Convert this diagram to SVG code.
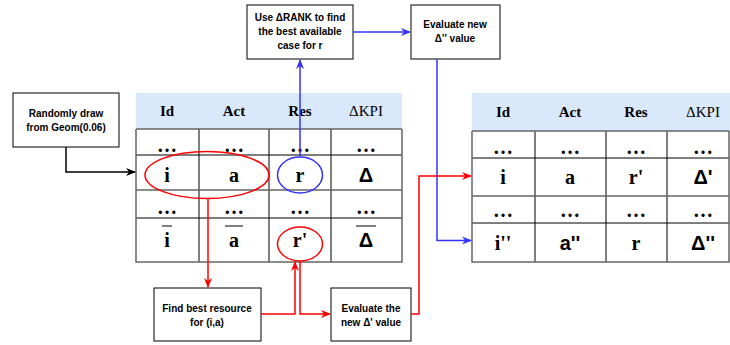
<svg xmlns="http://www.w3.org/2000/svg" width="730" height="345" viewBox="0 0 730 345">
<style>
.box{fill:#fff;stroke:#000;stroke-width:1}
.bt{font-family:"Liberation Sans",Arial,sans-serif;font-weight:bold;font-size:10px;text-anchor:middle;fill:#000}
.hdr{fill:#dae8fc;stroke:none}
.ht{font-family:"Liberation Serif","Times New Roman",serif;font-weight:bold;font-size:15px;text-anchor:middle}
.htn{font-family:"Liberation Serif","Times New Roman",serif;font-size:15px;text-anchor:middle}
.ct{font-family:"Liberation Serif","Times New Roman",serif;font-weight:bold;font-size:20px;text-anchor:middle}
.cs{font-family:"Liberation Sans",Arial,sans-serif;font-weight:bold;font-size:20px;text-anchor:middle}
.grid{stroke:#000;stroke-width:1;fill:none}
.grey{stroke:#666;stroke-width:1.5;fill:none}
.r{stroke:#ff0000;stroke-width:1.5;fill:none}
.b{stroke:#3333ff;stroke-width:1.5;fill:none}
.k{stroke:#000;stroke-width:1.5;fill:none}
</style>
<defs>
<marker id="ar" markerWidth="10" markerHeight="10" refX="9" refY="5" orient="auto" markerUnits="userSpaceOnUse"><path d="M0,1 L10,5 L0,9 L3,5 z" fill="#ff0000"/></marker>
<marker id="ab" markerWidth="10" markerHeight="10" refX="9" refY="5" orient="auto" markerUnits="userSpaceOnUse"><path d="M0,1 L10,5 L0,9 L3,5 z" fill="#3333ff"/></marker>
<marker id="ak" markerWidth="10" markerHeight="10" refX="9" refY="5" orient="auto" markerUnits="userSpaceOnUse"><path d="M0,1 L10,5 L0,9 L3,5 z" fill="#000"/></marker>
</defs>

<g id="table-left">
<rect class="hdr" x="136" y="93" width="266" height="36"/>
<text class="ht" x="167" y="116">Id</text>
<text class="ht" x="234" y="116">Act</text>
<text class="ht" x="300" y="116">Res</text>
<text class="htn" x="366" y="116">ΔKPI</text>
<path class="grid" d="M136,155 H402 M136,218 H402 M199,129 V262 M269,129 V262 M331,129 V262"/>
<path class="grey" d="M136,129 H402 M136,190 H402 M136,129 V262 H402 V129"/>
<text class="ct" x="167" y="152">…</text><text class="ct" x="234" y="152">…</text><text class="ct" x="300" y="152">…</text><text class="ct" x="366" y="152">…</text>
<text class="ct" x="167" y="182">i</text><text class="ct" x="234" y="182">a</text><text class="ct" x="300" y="182">r</text><text class="cs" x="366" y="182">Δ</text>
<text class="ct" x="167" y="214">…</text><text class="ct" x="234" y="214">…</text><text class="ct" x="300" y="214">…</text><text class="ct" x="366" y="214">…</text>
<text class="ct" x="167" y="247">i</text><text class="ct" x="234" y="247">a</text><text class="ct" x="300" y="247">r'</text><text class="cs" x="366" y="247">Δ</text>
<path class="grid" stroke-width="1.5" d="M162,226 H172 M225,226 H243 M356,226 H376"/>
</g>

<g id="table-right">
<rect class="hdr" x="472" y="93" width="258" height="38"/>
<text class="ht" x="503" y="117">Id</text>
<text class="ht" x="570" y="117">Act</text>
<text class="ht" x="636" y="117">Res</text>
<text class="htn" x="703" y="117">ΔKPI</text>
<path class="grid" d="M472,158 H729 M472,223 H729 M535,131 V262 M606,131 V262 M667,131 V262"/>
<path class="grey" d="M472,131 H729 M472,196 H729 M472,131 V262 H729 V131"/>
<text class="ct" x="503" y="154">…</text><text class="ct" x="570" y="154">…</text><text class="ct" x="636" y="154">…</text><text class="ct" x="703" y="154">…</text>
<text class="ct" x="503" y="184">i</text><text class="ct" x="570" y="184">a</text><text class="ct" x="636" y="184">r'</text><text class="cs" x="703" y="184">Δ'</text>
<text class="ct" x="503" y="217">…</text><text class="ct" x="570" y="217">…</text><text class="ct" x="636" y="217">…</text><text class="ct" x="703" y="217">…</text>
<text class="ct" x="503" y="250">i''</text><text class="cs" x="570" y="250">a''</text><text class="ct" x="636" y="250">r</text><text class="cs" x="703" y="250">Δ''</text>
</g>

<g id="box-random">
<rect class="box" x="13" y="93" width="106" height="54"/>
<text class="bt" x="66" y="117">Randomly draw</text>
<text class="bt" x="66" y="131">from Geom(0.06)</text>
</g>

<g id="box-rank">
<rect class="box" x="247" y="5" width="106" height="54"/>
<text class="bt" x="300" y="21">Use ΔRANK to find</text>
<text class="bt" x="300" y="35">the best available</text>
<text class="bt" x="300" y="49">case for r</text>
</g>

<g id="box-eval2">
<rect class="box" x="411" y="5" width="89" height="54"/>
<text class="bt" x="455" y="28">Evaluate new</text>
<text class="bt" x="455" y="42">Δ'' value</text>
</g>

<g id="box-find">
<rect class="box" x="154" y="288" width="107" height="53"/>
<text class="bt" x="207" y="312">Find best resource</text>
<text class="bt" x="207" y="326">for (i,a)</text>
</g>

<g id="box-eval1">
<rect class="box" x="331" y="288" width="80" height="53"/>
<text class="bt" x="371" y="312">Evaluate the</text>
<text class="bt" x="371" y="326">new Δ' value</text>
</g>

<g id="highlights">
<ellipse class="r" cx="207" cy="175" rx="62" ry="23.5"/>
<ellipse class="b" cx="300" cy="175" rx="22.5" ry="18"/>
<ellipse class="r" cx="300" cy="244" rx="22.5" ry="17"/>
</g>

<g id="connectors">
<path class="k" d="M66,147 V172 H135" marker-end="url(#ak)"/>
<path class="b" d="M300,157 V60" marker-end="url(#ab)"/>
<path class="b" d="M353,32 H410" marker-end="url(#ab)"/>
<path class="b" d="M437,59 V240.5 H471" marker-end="url(#ab)"/>
<path class="r" d="M208,199 V287" marker-end="url(#ar)"/>
<path class="r" d="M261,314 H295 V262" marker-end="url(#ar)"/>
<path class="r" d="M300,261 V314 H330" marker-end="url(#ar)"/>
<path class="r" d="M411,314 H419 V176 H471" marker-end="url(#ar)"/>
</g>
</svg>
